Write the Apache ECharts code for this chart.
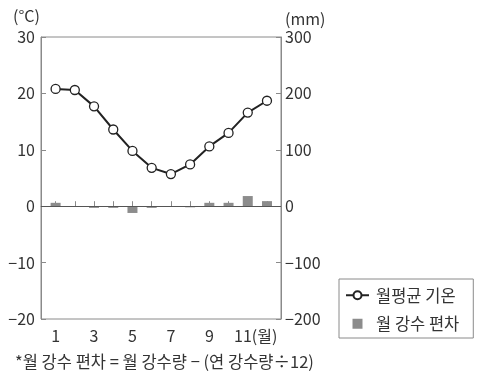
<!DOCTYPE html>
<html>
<head>
<meta charset="utf-8">
<script src="https://cdn.jsdelivr.net/npm/echarts@6/dist/echarts.min.js"></script>
<style>
html,body{margin:0;padding:0;background:#fff;}
#chart{width:482px;height:379px;}
</style>
</head>
<body>
<div id="chart"></div>
<script>
// ---- data ----
var months = [1,2,3,4,5,6,7,8,9,10,11,12];
var tempValues = [20.8,20.6,17.7,13.6,9.8,6.8,5.7,7.4,10.6,13.0,16.6,18.7];
var rainDeviation = [6,-1,-3,-3,-12,-3,-1,-2,6,6,18,9];
var monthLabels = [1,3,5,7,9,11];
var tempTicks = [-20,-10,0,10,20,30];
var rainTicks = [-200,-100,0,100,200,300];
var seriesNames = ['월평균 기온','월 강수 편차'];
var footnote = '*월 강수 편차 = 월 강수량 − (연 강수량÷12)';

var FONT = '"Noto Sans CJK KR", "Noto Sans", sans-serif';
var TXT = '#333';
var AX = '#8a8a8a';
function minus(v){ return String(v).replace('-', '−'); }

var chart = echarts.init(document.getElementById('chart'), null, {renderer:'canvas'});
var option = {
  animation:false,
  backgroundColor:'#fff',
  textStyle:{fontFamily:FONT, color:TXT},
  grid:{left:41, right:201, top:37, bottom:60, show:true, borderColor:AX, borderWidth:1},
  xAxis:{
    type:'value', min:0.24, max:12.73,
    axisLine:{show:true, lineStyle:{color:AX, width:1}},
    axisTick:{show:true, inside:true, length:5, customValues:months, lineStyle:{color:AX}},
    splitLine:{show:false},
    axisLabel:{
      customValues:monthLabels, margin:9, fontSize:16, color:TXT, fontFamily:FONT,
      formatter:function(v){ return v===11 ? '{p|11(월)}' : String(v); },
      rich:{p:{fontSize:16, color:TXT, fontFamily:FONT, padding:[0,0,0,16]}}
    }
  },
  yAxis:[{
    type:'value', min:tempTicks[0], max:tempTicks[tempTicks.length-1], interval:10,
    axisLine:{show:true, lineStyle:{color:AX}},
    axisTick:{show:true, inside:true, length:5, lineStyle:{color:AX}},
    splitLine:{show:false},
    axisLabel:{margin:6, fontSize:16, color:TXT, fontFamily:FONT, formatter:minus}
  },{
    type:'value', min:rainTicks[0], max:rainTicks[rainTicks.length-1], interval:100,
    position:'right',
    axisLine:{show:true, lineStyle:{color:AX}},
    axisTick:{show:true, inside:true, length:5, lineStyle:{color:AX}},
    splitLine:{show:false},
    axisLabel:{margin:4, fontSize:16, color:TXT, fontFamily:FONT, formatter:minus}
  }],
  legend:{
    left:339, top:279, width:125, orient:'vertical',
    padding:[8,14,6,6], itemGap:12, itemWidth:23, itemHeight:10,
    borderColor:AX, borderWidth:1,
    textStyle:{fontSize:16.5, color:TXT, fontFamily:FONT, padding:[0,0,0,2]},
    data:[{name:seriesNames[0]},{name:seriesNames[1], icon:'path://M0,0h10v10h-10z'}]
  },
  series:[{
    name:seriesNames[1], type:'bar', yAxisIndex:1, barWidth:10,
    itemStyle:{color:'#8c8c8c'},
    data:months.map(function(m,i){return [m, rainDeviation[i]];}),
    markLine:{silent:true, symbol:'none', label:{show:false},
      lineStyle:{color:'#555', width:1, type:'solid'},
      data:[{yAxis:0}]},
    z:2
  },{
    name:seriesNames[0], type:'line', yAxisIndex:0,
    symbol:'circle', symbolSize:9,
    lineStyle:{color:'#222', width:2},
    itemStyle:{color:'#fff', borderColor:'#222', borderWidth:1.3},
    data:months.map(function(m,i){return [m, tempValues[i]];}),
    z:3
  }],
  graphic:[
    {type:'text', left:13, top:8, style:{text:'(°C)', font:'16px '+FONT, fill:TXT}},
    {type:'text', left:285, top:11, style:{text:'(mm)', font:'16px '+FONT, fill:TXT}},
    {type:'text', left:15, top:353, style:{text:footnote, font:'16.5px '+FONT, fill:TXT}}
  ]
};
chart.setOption(option);
</script>
</body>
</html>
